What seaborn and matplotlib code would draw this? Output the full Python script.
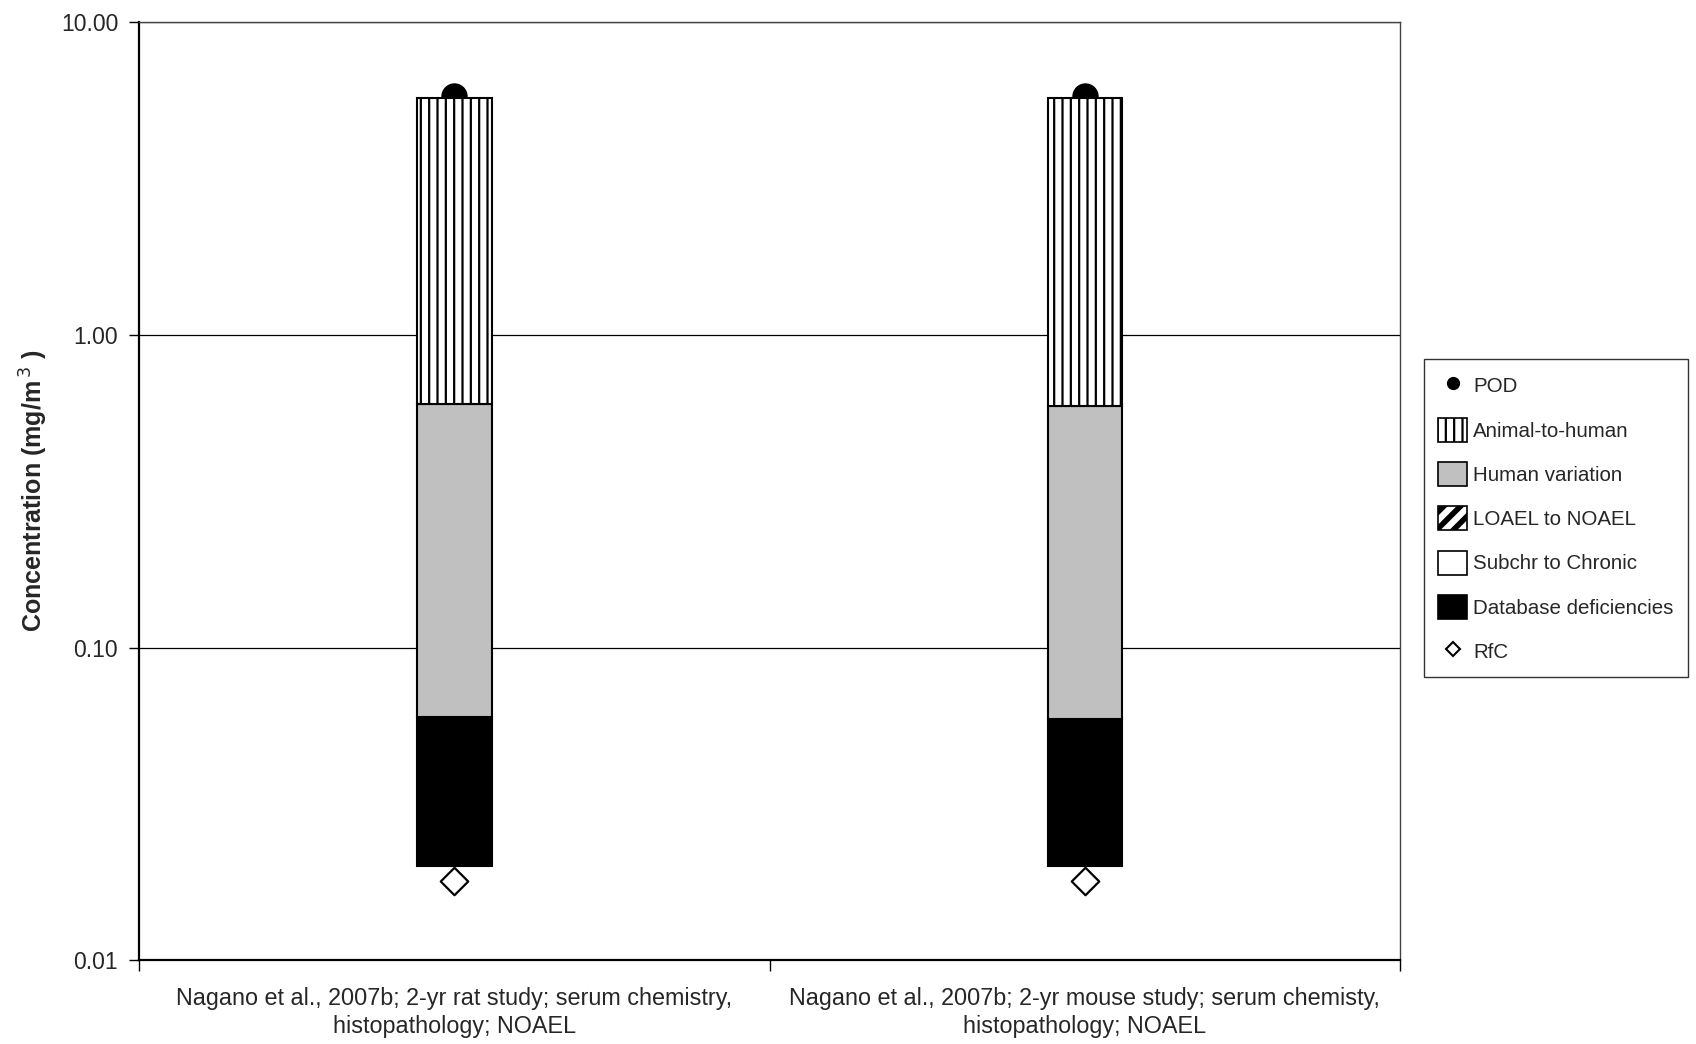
import numpy as np
import pandas as pd
import matplotlib
matplotlib.use("Agg")
import matplotlib.pyplot as plt
import seaborn as sns
from matplotlib.patches import Patch
from matplotlib.lines import Line2D
from matplotlib.ticker import FixedLocator, NullLocator, FixedFormatter, NullFormatter

# ---------------- data ----------------
studies = [
    "Nagano et al., 2007b; 2-yr rat study; serum chemistry,\nhistopathology; NOAEL",
    "Nagano et al., 2007b; 2-yr mouse study; serum chemisty,\nhistopathology; NOAEL",
]
pod = [5.8, 5.8]
rfc = [0.018, 0.018]
# stacked uncertainty-factor segments (lower, upper bounds)
database_low = [0.02, 0.02]
database_high = [0.06, 0.059]
subchr_low = [0.06, 0.059]
subchr_high = [0.06, 0.059]
loael_low = [0.06, 0.059]
loael_high = [0.06, 0.059]
human_low = [0.06, 0.059]
human_high = [0.6, 0.59]
animal_low = [0.6, 0.59]
animal_high = [5.7, 5.7]
y_ticks = [0.01, 0.1, 1, 10]
y_tick_labels = ["0.01", "0.10", "1.00", "10.00"]

# ---------------- style ----------------
sns.set_theme(style="white")
plt.rcParams["font.family"] = ["Liberation Sans", "DejaVu Sans"]
plt.rcParams["hatch.linewidth"] = 1.6

fig = plt.figure(figsize=(16.96, 10.44), dpi=100)
ax = fig.add_axes([0.082, 0.08, 0.7435, 0.899])
ax.set_yscale("log")

layers = [
    ("Database deficiencies", database_low, database_high, dict(facecolor="black", hatch=None)),
    ("Subchr to Chronic", subchr_low, subchr_high, dict(facecolor="white", hatch=None)),
    ("LOAEL to NOAEL", loael_low, loael_high, dict(facecolor="white", hatch="//")),
    ("Human variation", human_low, human_high, dict(facecolor="#C0C0C0", hatch=None)),
    ("Animal-to-human", animal_low, animal_high, dict(facecolor="white", hatch="||")),
]

for name, lo, hi, st in layers:
    span = [h - l for l, h in zip(lo, hi)]
    if max(span) <= 0:
        continue
    df = pd.DataFrame({"study": studies, "span": span})
    kws = dict(edgecolor="black", linewidth=1.5, zorder=3)
    if st["hatch"]:
        kws["hatch"] = st["hatch"]
    sns.barplot(data=df, x="study", y="span", bottom=np.array(lo), width=0.118,
                color=st["facecolor"], saturation=1, ax=ax, order=studies,
                errorbar=None, **kws)

pod_df = pd.DataFrame({"study": studies, "v": pod})
sns.scatterplot(data=pod_df, x="study", y="v", marker="o", s=19 ** 2, color="black",
                edgecolor="black", linewidth=0, zorder=2, ax=ax, legend=False)
rfc_df = pd.DataFrame({"study": studies, "v": rfc})
sns.scatterplot(data=rfc_df, x="study", y="v", marker="D", s=14 ** 2, facecolor="white",
                edgecolor="black", linewidth=1.6, zorder=5, ax=ax, legend=False)

# ---------------- axes ----------------
ax.set_ylim(0.01, 10)
ax.set_xlim(-0.5, 1.5)
ax.yaxis.set_major_locator(FixedLocator(y_ticks))
ax.yaxis.set_major_formatter(FixedFormatter(y_tick_labels))
ax.yaxis.set_minor_locator(NullLocator())
ax.yaxis.grid(True, color="black", linewidth=0.9)
ax.set_axisbelow(True)

ax.xaxis.set_major_locator(FixedLocator([-0.5, 0.5, 1.5]))
ax.xaxis.set_major_formatter(NullFormatter())
ax.xaxis.set_minor_locator(FixedLocator([0, 1]))
ax.xaxis.set_minor_formatter(FixedFormatter(studies))
ax.tick_params(axis="x", which="major", direction="out", length=8, width=1, color="black", bottom=True)
ax.tick_params(axis="x", which="minor", length=0, pad=19, labelsize=16.8)
ax.tick_params(axis="y", which="major", direction="out", length=7, width=1, color="black", left=True,
               labelsize=16.5, pad=8)
for lab in ax.get_xticklabels(minor=True):
    lab.set_horizontalalignment("center")
    lab.set_linespacing(1.3)

ax.set_xlabel("")
ax.set_ylabel("Concentration (mg/m$^{\\,3}$ )", fontsize=18, fontweight="bold", labelpad=8)

for side in ["left", "bottom"]:
    ax.spines[side].set_color("black")
    ax.spines[side].set_linewidth(1.6)
for side in ["top", "right"]:
    ax.spines[side].set_color("#444444")
    ax.spines[side].set_linewidth(1.0)

# ---------------- legend ----------------
handles = [
    Line2D([], [], marker="o", ls="", color="black", markersize=8.5),
    Patch(facecolor="white", edgecolor="black", hatch="||", linewidth=1.2),
    Patch(facecolor="#C0C0C0", edgecolor="black", linewidth=1.2),
    Patch(facecolor="white", edgecolor="black", hatch="//", linewidth=1.2),
    Patch(facecolor="white", edgecolor="black", linewidth=1.2),
    Patch(facecolor="black", edgecolor="black", linewidth=1.2),
    Line2D([], [], marker="D", ls="", markerfacecolor="white", markeredgecolor="black",
           markeredgewidth=1.5, markersize=7),
]
labels = ["POD", "Animal-to-human", "Human variation", "LOAEL to NOAEL",
          "Subchr to Chronic", "Database deficiencies", "RfC"]
leg = fig.legend(handles, labels, loc="center left", bbox_to_anchor=(0.8396, 0.5035),
                 frameon=True, fancybox=False, edgecolor="black", fontsize=14.8,
                 handlelength=1.4, handleheight=1.4, handletextpad=0.3,
                 labelspacing=1.0, borderpad=0.7, borderaxespad=0)
leg.get_frame().set_linewidth(1.0)
lh = getattr(leg, "legend_handles", None) or getattr(leg, "legendHandles", [])
if len(lh) > 3 and hasattr(lh[3], "set_hatch_linewidth"):
    lh[3].set_hatch_linewidth(4.0)

fig.savefig("out.png", dpi=100, facecolor="white")
